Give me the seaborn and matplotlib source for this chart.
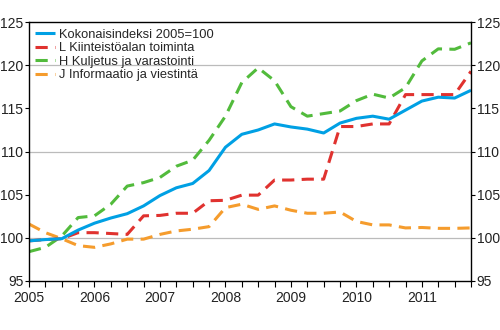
import matplotlib
matplotlib.use("Agg")
import matplotlib.pyplot as plt
import seaborn as sns
import numpy as np
import pandas as pd

sns.set_theme(style="white")
plt.rcParams['font.family'] = ['Liberation Sans', 'DejaVu Sans']

years = ["2005", "2006", "2007", "2008", "2009", "2010", "2011"]
quarters = list(range(28))

total = [99.65, 99.8, 99.9, 100.9, 101.7, 102.3, 102.8, 103.7, 104.9, 105.8, 106.3, 107.8, 110.5, 112.0,
         112.5, 113.2, 112.85, 112.6, 112.15, 113.3, 113.85, 114.1, 113.75, 114.8, 115.85, 116.3, 116.2, 117.1]
real_estate = [99.65, 99.8, 99.9, 100.6, 100.6, 100.5, 100.4, 102.55, 102.6, 102.85, 102.85, 104.3, 104.35, 104.95,
               104.95, 106.7, 106.7, 106.8, 106.8, 112.9, 112.9, 113.2, 113.2, 116.6, 116.6, 116.6, 116.6, 119.3]
transport = [98.4, 98.9, 100.2, 102.35, 102.55, 103.9, 106.0, 106.4, 107.0, 108.3, 109.0, 111.3, 114.1, 118.0,
             119.7, 118.2, 115.2, 114.1, 114.4, 114.7, 115.9, 116.65, 116.2, 117.4, 120.5, 121.9, 121.85, 122.6]
info = [101.6, 100.6, 99.9, 99.1, 98.9, 99.3, 99.85, 99.85, 100.4, 100.8, 101.0, 101.3, 103.5, 103.9,
        103.3, 103.7, 103.2, 102.85, 102.85, 103.0, 101.9, 101.5, 101.5, 101.15, 101.2, 101.1, 101.1, 101.15]

labels = ["Kokonaisindeksi 2005=100", "L Kiinteistöalan toiminta",
          "H Kuljetus ja varastointi", "J Informaatio ja viestintä"]
colors = ["#00a0e4", "#e0322f", "#52bb3c", "#f59c2d"]
series = [total, real_estate, transport, info]

fig = plt.figure(figsize=(5.0, 3.3), dpi=100)
ax = fig.add_axes([0.058, 0.1485, 0.884, 0.7845])

ax.set_ylim(95, 125)
ax.set_xlim(0, 27)
for y in (100, 110, 120):
    ax.axhline(y, color="#bbbbbb", lw=0.9, zorder=0)

order = [3, 2, 1, 0]
lines = {}
for i in order:
    df = pd.DataFrame({"q": quarters, "v": series[i]})
    sns.lineplot(data=df, x="q", y="v", ax=ax, color=colors[i], lw=2.2, label=labels[i])
    ln = ax.get_lines()[-1]
    if i != 0:
        ln.set_dashes([4.0, 2.4])
    ln.set_solid_capstyle("butt")
    ln.set_dash_capstyle("butt")
    lines[i] = ln

ax.set_xlabel("")
ax.set_ylabel("")
ax.set_xticks([0, 4, 8, 12, 16, 20, 24])
ax.set_xticklabels(years)
ax.set_xticks(quarters, minor=True)
ax.set_yticks([95, 100, 105, 110, 115, 120, 125])
ax.tick_params(axis="x", which="both", direction="out", length=4, width=0.8, color="black",
               bottom=True, labelsize=10, pad=3, labelcolor="#222222")
ax.tick_params(axis="y", which="major", direction="out", length=3, width=0.8, color="black",
               left=True, right=True, labelleft=True, labelright=True, labelsize=10, pad=1,
               labelcolor="#222222")
for s in ax.spines.values():
    s.set_color("black")
    s.set_linewidth(1.0)

handles = [lines[i] for i in range(4)]
leg = ax.legend(handles, labels, loc="upper left", frameon=False, fontsize=9.3,
                handlelength=1.55, handletextpad=0.3, labelspacing=0.12,
                borderaxespad=0.1, bbox_to_anchor=(0.0, 1.0))

fig.savefig("out.png", dpi=100)
